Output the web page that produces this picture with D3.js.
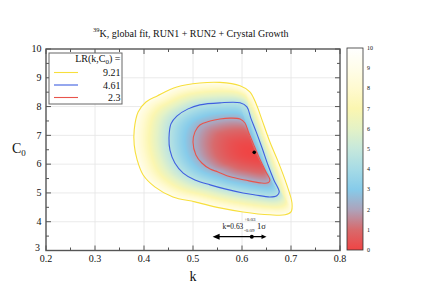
<!DOCTYPE html>
<html lang="en">
<head>
    <meta charset="UTF-8">
    <title>39K global fit</title>
    <script src="https://cdn.jsdelivr.net/npm/d3@7"></script>
    <style>
        body { margin: 0; padding: 0; background: #fff; }
        svg { font-family: "Liberation Serif", "DejaVu Serif", serif; }
        text { fill: #111; }
        .grid line { stroke: #e4e4e4; stroke-width: 0.8; }
        .frame { fill: none; stroke: #555; stroke-width: 1.4; }
        .tick { stroke: #555; stroke-width: 1; }
    </style>
</head>
<body>
<svg id="chart" width="428" height="301" font-family="Liberation Serif, DejaVu Serif, serif"></svg>
<script>
    // axis ticks
    var kTicks = [0.2, 0.3, 0.4, 0.5, 0.6, 0.7, 0.8];
    var c0Ticks = [3, 4, 5, 6, 7, 8, 9, 10];
    var cbarTicks = [0, 1, 2, 3, 4, 5, 6, 7, 8, 9, 10];
    var cbarColors = ["#f04444", "#d86a6c", "#ada3bb", "#86cbea", "#a6dbe6", "#c6e8dc",
                      "#e4f2c6", "#fbf6b0", "#fffad0", "#fffdea", "#ffffff"];

    // contour levels and their lines [k, C0]
    var levels = [2.3, 4.61, 9.21];
    var levelColors = ["#e8544c", "#3f5fe0", "#f7df3c"];
    var contour23 = [[0.500, 6.77], [0.504, 7.12], [0.514, 7.36], [0.535, 7.50], [0.555, 7.57],
        [0.576, 7.60], [0.596, 7.57], [0.606, 7.43], [0.614, 7.08], [0.625, 6.63], [0.637, 6.15],
        [0.649, 5.73], [0.657, 5.45], [0.653, 5.35], [0.637, 5.35], [0.606, 5.45], [0.576, 5.56],
        [0.551, 5.73], [0.535, 5.83], [0.518, 6.04], [0.506, 6.32]];
    var contour461 = [[0.451, 6.91], [0.455, 7.40], [0.467, 7.67], [0.490, 7.92], [0.514, 8.06],
        [0.555, 8.13], [0.596, 8.13], [0.610, 7.99], [0.618, 7.60], [0.629, 7.12], [0.641, 6.56],
        [0.653, 5.97], [0.665, 5.45], [0.676, 5.03], [0.671, 4.90], [0.657, 4.86], [0.627, 4.93],
        [0.602, 5.00], [0.565, 5.14], [0.535, 5.28], [0.504, 5.45], [0.480, 5.69], [0.463, 6.04],
        [0.453, 6.49]];
    var contour921 = [[0.380, 7.19], [0.388, 7.81], [0.404, 8.16], [0.427, 8.37], [0.467, 8.68],
        [0.514, 8.82], [0.555, 8.84], [0.596, 8.72], [0.616, 8.51], [0.629, 8.09], [0.641, 7.53],
        [0.657, 6.77], [0.674, 6.08], [0.690, 5.35], [0.702, 4.65], [0.700, 4.34], [0.688, 4.24],
        [0.657, 4.24], [0.602, 4.34], [0.555, 4.48], [0.504, 4.69], [0.459, 4.86], [0.422, 5.21],
        [0.398, 5.63], [0.386, 6.15], [0.380, 6.67]];
    var bestFit = [0.625, 6.41];
    var kResult = 0.62, kLow = 0.54, kHigh = 0.65;

    var svg = d3.select('#chart');
    var x = d3.scaleLinear().domain([0.2, 0.8]).range([46, 340]);
    var y = d3.scaleLinear().domain([3, 10]).range([250.5, 49]);
    var x0 = x.range()[0], x1 = x.range()[1], yTop = y.range()[1], yBot = y.range()[0];

    // grid
    var grid = svg.append('g').attr('class', 'grid');
    grid.selectAll('.gx').data(kTicks.slice(1, -1)).enter().append('line')
        .attr('x1', function(d) { return x(d); }).attr('x2', function(d) { return x(d); })
        .attr('y1', yTop).attr('y2', yBot);
    grid.selectAll('.gy').data(c0Ticks.slice(1, -1)).enter().append('line')
        .attr('y1', function(d) { return y(d); }).attr('y2', function(d) { return y(d); })
        .attr('x1', x0).attr('x2', x1);

    var heat = svg.append('g');
    var lines = svg.append('g');

    var line = d3.line()
        .x(function(d) { return x(d[0]); })
        .y(function(d) { return y(d[1]); })
        .curve(d3.curveCatmullRomClosed.alpha(0.5));

    var contours = [contour23, contour461, contour921];
    var paths = lines.selectAll('path').data(contours).enter().append('path')
        .attr('d', line)
        .attr('fill', 'none')
        .attr('stroke', function(d, i) { return levelColors[i]; })
        .attr('stroke-width', 1.1);

    // sample drawn paths into dense polygons
    var polys = [];
    paths.each(function() {
        var L = this.getTotalLength(), pts = [];
        for (var i = 0; i < 400; i++) {
            var p = this.getPointAtLength(L * i / 400);
            pts.push([p.x, p.y]);
        }
        polys.push(pts);
    });

    // distance from centre to each contour along each angle
    var cx = x(bestFit[0]), cy = y(bestFit[1]);
    var nAng = 1440;
    function rayHit(poly, dx, dy) {
        var best = 0;
        for (var i = 0; i < poly.length; i++) {
            var a = poly[i], b = poly[(i + 1) % poly.length];
            var ex = b[0] - a[0], ey = b[1] - a[1];
            var den = dx * ey - dy * ex;
            if (Math.abs(den) < 1e-12) continue;
            var wx = a[0] - cx, wy = a[1] - cy;
            var t = (wx * ey - wy * ex) / den;
            var u = (wx * dy - wy * dx) / den;
            if (u >= 0 && u <= 1 && t > best) best = t;
        }
        return best;
    }
    var radii = polys.map(function(poly) {
        var r = [];
        for (var j = 0; j <= nAng; j++) {
            var ang = 2 * Math.PI * j / nAng;
            r.push(rayHit(poly, Math.cos(ang), Math.sin(ang)));
        }
        return r;
    });
    var sLev = [0].concat(levels.map(Math.sqrt));

    var color = d3.scaleLinear().domain(cbarTicks).range(cbarColors).interpolate(d3.interpolateRgb);

    var W = Math.round(x1 - x0), H = Math.round(yBot - yTop);
    var canvas = document.createElement('canvas');
    canvas.width = W; canvas.height = H;
    var ctx = canvas.getContext('2d');
    var img = ctx.createImageData(W, H);
    for (var j = 0; j < H; j++) {
        for (var i = 0; i < W; i++) {
            var px = x0 + i + 0.5, py = yTop + j + 0.5;
            var dx = px - cx, dy = py - cy;
            var r = Math.sqrt(dx * dx + dy * dy);
            var ang = Math.atan2(dy, dx); if (ang < 0) ang += 2 * Math.PI;
            var f = ang / (2 * Math.PI) * nAng, b0 = Math.floor(f), fr = f - b0;
            var t = radii.map(function(rr) { return rr[b0] * (1 - fr) + rr[b0 + 1] * fr; });
            var s;
            if (r <= t[0]) s = sLev[1] * r / t[0];
            else if (r <= t[1]) s = sLev[1] + (sLev[2] - sLev[1]) * (r - t[0]) / (t[1] - t[0]);
            else if (r <= t[2]) s = sLev[2] + (sLev[3] - sLev[2]) * (r - t[1]) / (t[2] - t[1]);
            else continue;
            var c = d3.rgb(color(s * s));
            var k = (j * W + i) * 4;
            img.data[k] = c.r; img.data[k + 1] = c.g; img.data[k + 2] = c.b; img.data[k + 3] = 255;
        }
    }
    ctx.putImageData(img, 0, 0);
    heat.append('image')
        .attr('x', x0).attr('y', yTop).attr('width', W).attr('height', H)
        .attr('href', canvas.toDataURL());

    // best fit point
    svg.append('circle').attr('cx', cx).attr('cy', cy).attr('r', 1.8).attr('fill', '#000');

    // frame and ticks
    svg.append('rect').attr('class', 'frame')
        .attr('x', x0).attr('y', yTop).attr('width', x1 - x0).attr('height', yBot - yTop);
    var ticks = svg.append('g');
    d3.range(0.2, 0.8001, 0.05).forEach(function(v, i) {
        var len = i % 2 === 0 ? 5 : 3;
        ticks.append('line').attr('class', 'tick').attr('x1', x(v)).attr('x2', x(v)).attr('y1', yBot).attr('y2', yBot - len);
        ticks.append('line').attr('class', 'tick').attr('x1', x(v)).attr('x2', x(v)).attr('y1', yTop).attr('y2', yTop + len);
    });
    d3.range(3, 10.001, 0.5).forEach(function(v, i) {
        var len = i % 2 === 0 ? 5 : 3;
        ticks.append('line').attr('class', 'tick').attr('y1', y(v)).attr('y2', y(v)).attr('x1', x0).attr('x2', x0 + len);
        ticks.append('line').attr('class', 'tick').attr('y1', y(v)).attr('y2', y(v)).attr('x1', x1).attr('x2', x1 - len);
    });

    svg.append('g').selectAll('text').data(kTicks).enter().append('text')
        .attr('x', function(d) { return x(d); }).attr('y', 261.5)
        .attr('text-anchor', 'middle').attr('font-size', 10)
        .text(function(d) { return d.toFixed(1); });
    svg.append('g').selectAll('text').data(c0Ticks).enter().append('text')
        .attr('x', function(d) { return d === 3 ? 40 : 41.5; })
        .attr('y', function(d) { return y(d) - (d === 3 ? 3 : 0); }).attr('dy', '0.32em')
        .attr('text-anchor', 'end').attr('font-size', 10)
        .text(function(d) { return d; });

    // axis titles
    svg.append('text').attr('x', x(0.5)).attr('y', 281).attr('text-anchor', 'middle')
        .attr('font-size', 14).text('k');
    var yl = svg.append('text').attr('x', 12).attr('y', 153).attr('font-size', 14);
    yl.append('tspan').text('C');
    yl.append('tspan').attr('font-size', 9).attr('dy', 3).text('0');

    // title
    var title = svg.append('text').attr('x', 93).attr('y', 36.5).attr('font-size', 10);
    title.append('tspan').attr('font-size', 6.5).attr('dy', -5).text('39');
    title.append('tspan').attr('dy', 5).text('K, global fit, RUN1 + RUN2 + Crystal Growth');

    // legend
    var lg = svg.append('g');
    lg.append('rect').attr('x', 49).attr('y', 53).attr('width', 73).attr('height', 51)
        .attr('fill', '#fff').attr('stroke', '#666').attr('stroke-width', 1);
    var lt = lg.append('text').attr('x', 120.5).attr('y', 62).attr('text-anchor', 'end').attr('font-size', 10);
    lt.append('tspan').text('LR(k,C');
    lt.append('tspan').attr('font-size', 7).attr('dy', 2).text('0');
    lt.append('tspan').attr('dy', -2).text(') =');
    var legendOrder = [2, 1, 0];
    legendOrder.forEach(function(li, i) {
        var ly = 72.5 + i * 12.5;
        lg.append('line').attr('x1', 54).attr('x2', 78).attr('y1', ly).attr('y2', ly)
            .attr('stroke', levelColors[li]).attr('stroke-width', 1.1);
        lg.append('text').attr('x', 120.5).attr('y', ly).attr('dy', '0.35em')
            .attr('text-anchor', 'end').attr('font-size', 10).text(levels[li]);
    });

    // 1 sigma annotation
    var ay = 236.7;
    svg.append('text').attr('x', 222.5).attr('y', 228.7).attr('font-size', 7.4).text('k=0.63');
    svg.append('text').attr('x', 244).attr('y', 221.3).attr('font-size', 5).text('+0.03');
    svg.append('text').attr('x', 244).attr('y', 231.5).attr('font-size', 5).text('-0.09');
    svg.append('text').attr('x', 257).attr('y', 228.7).attr('font-size', 8.5).text('1σ');
    svg.append('line').attr('x1', x(kLow) + 4).attr('x2', x(kHigh) - 3).attr('y1', ay).attr('y2', ay)
        .attr('stroke', '#000').attr('stroke-width', 1.2);
    svg.append('path').attr('fill', '#000')
        .attr('d', 'M' + x(kLow) + ',' + ay + 'l7,-3l0,6z');
    svg.append('path').attr('fill', '#000')
        .attr('d', 'M' + x(kHigh) + ',' + ay + 'l-5,-2.3l0,4.6z');
    svg.append('circle').attr('cx', x(kResult)).attr('cy', ay).attr('r', 2).attr('fill', '#000');

    // colour bar
    var cb = d3.scaleLinear().domain([0, 10]).range([250, 48]);
    var grad = svg.append('defs').append('linearGradient').attr('id', 'cbg')
        .attr('x1', 0).attr('y1', 1).attr('x2', 0).attr('y2', 0);
    grad.selectAll('stop').data(cbarTicks).enter().append('stop')
        .attr('offset', function(d) { return d / 10; })
        .attr('stop-color', function(d, i) { return cbarColors[i]; });
    svg.append('rect').attr('x', 347).attr('y', cb(10)).attr('width', 16).attr('height', cb(0) - cb(10))
        .attr('fill', 'url(#cbg)').attr('stroke', '#333').attr('stroke-width', 0.8);
    cbarTicks.slice(1, -1).forEach(function(v) {
        ticks.append('line').attr('stroke', '#333').attr('stroke-width', 0.8)
            .attr('x1', 347).attr('x2', 350.5).attr('y1', cb(v)).attr('y2', cb(v));
        ticks.append('line').attr('stroke', '#333').attr('stroke-width', 0.8)
            .attr('x1', 363).attr('x2', 359.5).attr('y1', cb(v)).attr('y2', cb(v));
    });
    svg.append('g').selectAll('text').data(cbarTicks).enter().append('text')
        .attr('x', 367).attr('y', function(d) { return cb(d); }).attr('dy', '0.32em')
        .attr('font-size', 6).text(function(d) { return d; });
</script>
</body>
</html>
